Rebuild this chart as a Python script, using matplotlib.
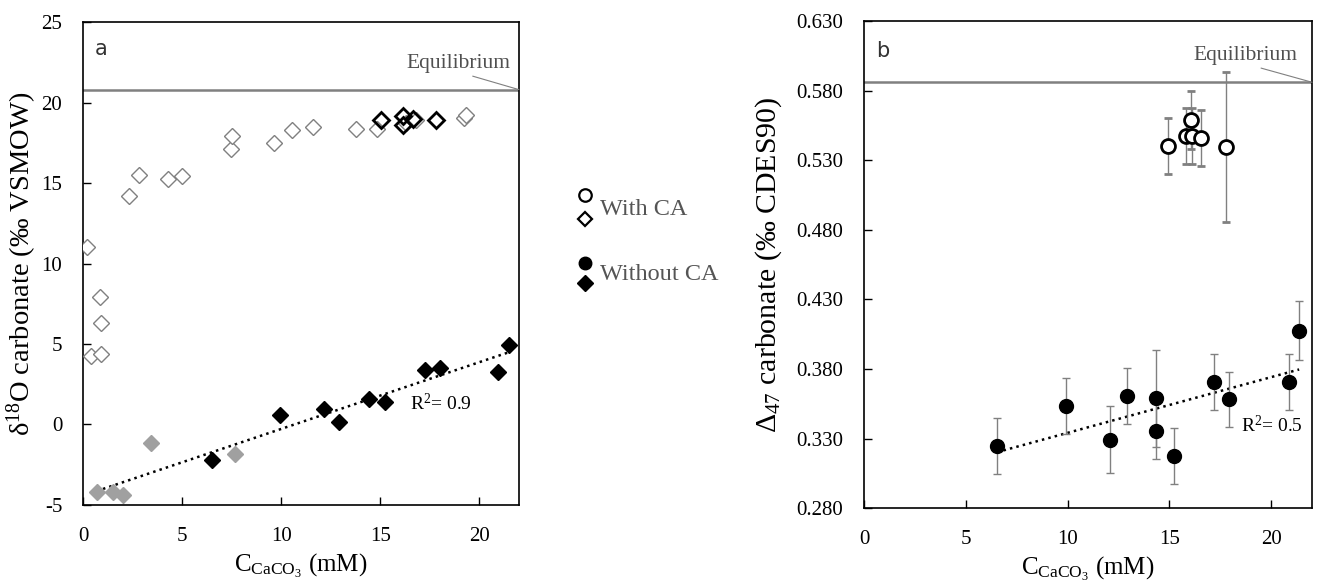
import matplotlib
matplotlib.use('Agg')
import matplotlib.pyplot as plt
import numpy as np

""" Data read from the figure """
# panel a : d18O carbonate vs C_CaCO3
with_ca_gray_x = [0.22, 0.86, 0.89, 0.39, 0.89, 2.31, 2.81, 4.29, 4.98, 7.49, 7.54, 9.65, 10.57, 11.63, 13.77, 14.83, 16.3, 16.82, 19.22, 19.35]
with_ca_gray_y = [11.0, 7.94, 6.32, 4.25, 4.38, 14.19, 15.5, 15.25, 15.45, 17.1, 17.94, 17.46, 18.31, 18.5, 18.33, 18.35, 18.7, 18.9, 19.05, 19.25]
with_ca_black_x = [15.05, 16.15, 16.15, 16.65, 17.83]
with_ca_black_y = [18.9, 19.16, 18.6, 18.97, 18.9]
without_ca_black_x = [6.53, 9.95, 12.14, 12.93, 14.44, 15.22, 17.24, 18.0, 20.96, 21.52]
without_ca_black_y = [-2.2, 0.61, 0.94, 0.17, 1.58, 1.4, 3.37, 3.51, 3.26, 4.94]
without_ca_gray_x = [0.69, 1.53, 2.04, 3.43, 7.69]
without_ca_gray_y = [-4.21, -4.2, -4.38, -1.17, -1.83]
eq_d18o = 20.8

# panel b : D47 carbonate vs C_CaCO3
with_ca_b_x = [14.95, 15.82, 16.06, 16.13, 16.54, 17.79]
with_ca_b_y = [0.540, 0.5475, 0.559, 0.5475, 0.5458, 0.5396]
with_ca_b_err = [0.020, 0.020, 0.021, 0.020, 0.020, 0.054]
without_ca_b_x = [6.54, 9.9, 12.09, 12.93, 14.36, 14.36, 15.21, 17.17, 17.91, 20.88, 21.37]
without_ca_b_y = [0.3246, 0.3533, 0.3292, 0.3605, 0.3588, 0.3352, 0.3172, 0.3708, 0.3581, 0.3705, 0.4076]
without_ca_b_err = [0.020, 0.020, 0.024, 0.020, 0.035, 0.020, 0.020, 0.020, 0.020, 0.020, 0.021]
eq_d47 = 0.586

""" Style """
plt.rcParams['font.family'] = ['Liberation Serif', 'DejaVu Serif']
plt.rcParams['mathtext.fontset'] = 'custom'
plt.rcParams['mathtext.rm'] = 'Liberation Serif'
plt.rcParams['mathtext.it'] = 'Liberation Serif:italic'
plt.rcParams['axes.unicode_minus'] = False
plt.rcParams['font.size'] = 15

gray = '#808080'
lgray = '#a0a0a0'
xlab = r'C$\mathregular{_{CaCO_3}}$ (mM)'

fig = plt.figure(figsize=(13.43, 5.84), dpi=100)
ax1 = fig.add_axes([0.0618, 0.1353, 0.3246, 0.827])
ax2 = fig.add_axes([0.6433, 0.130, 0.3336, 0.834])

""" Panel a """
ax1.axhline(eq_d18o, color=gray, lw=1.8, zorder=1)
ax1.plot(with_ca_gray_x, with_ca_gray_y, 'D', ms=8.5, mfc='white', mec=gray, mew=1.0, ls='none', zorder=3)
ax1.plot(with_ca_black_x, with_ca_black_y, 'D', ms=8.5, mfc='none', mec='black', mew=2.0, ls='none', zorder=4)
ax1.plot(without_ca_gray_x, without_ca_gray_y, 'D', ms=8, color=lgray, ls='none', zorder=3)
ax1.plot(without_ca_black_x, without_ca_black_y, 'D', ms=8, color='black', ls='none', zorder=3)
fit_x = np.array(without_ca_gray_x + without_ca_black_x)
fit_y = np.array(without_ca_gray_y + without_ca_black_y)
p = np.polyfit(fit_x, fit_y, 1)
xx = np.array([fit_x.min(), fit_x.max()])
ax1.plot(xx, np.polyval(p, xx), ':', color='black', lw=1.8, zorder=2)
ax1.text(16.5, 1.3, r'R$\mathregular{^2}$= 0.9', fontsize=14, va='center')
ax1.annotate('Equilibrium', xy=(22, eq_d18o), xytext=(16.3, 22.4), color='#505050', fontsize=15.5,
             va='center', arrowprops=dict(arrowstyle='-', color=gray, lw=0.8, shrinkA=0, shrinkB=0,
                                          relpos=(0.55, 0)))
ax1.text(0.028, 0.965, 'a', transform=ax1.transAxes, fontsize=15, family='DejaVu Sans', color='#333333', va='top')
ax1.set_xlim(0, 22)
ax1.set_ylim(-5, 25)
ax1.set_xticks([0, 5, 10, 15, 20])
ax1.set_yticks([-5, 0, 5, 10, 15, 20, 25])
ax1.set_xlabel(xlab, fontsize=18, labelpad=4)
ax1.set_ylabel(r'δ$\mathregular{^{18}}$O carbonate (‰ VSMOW)', fontsize=20.5, labelpad=2)

""" Panel b """
ax2.axhline(eq_d47, color=gray, lw=1.8, zorder=1)
ax2.errorbar(with_ca_b_x, with_ca_b_y, yerr=with_ca_b_err, fmt='o', ms=10, mfc='white', mec='black', mew=2.0,
             ecolor=gray, elinewidth=1, capsize=3, zorder=3)
ax2.errorbar(without_ca_b_x, without_ca_b_y, yerr=without_ca_b_err, fmt='o', ms=10, color='black',
             ecolor=gray, elinewidth=1, capsize=3, zorder=3)
bx = np.array(without_ca_b_x)
q = np.polyfit(bx, np.array(without_ca_b_y), 1)
xx2 = np.array([bx.min(), bx.max()])
ax2.plot(xx2, np.polyval(q, xx2), ':', color='black', lw=1.8, zorder=2)
ax2.text(18.5, 0.339, r'R$\mathregular{^2}$= 0.5', fontsize=14, va='center')
ax2.annotate('Equilibrium', xy=(22, eq_d47), xytext=(16.2, 0.605), color='#505050', fontsize=15.5,
             va='center', arrowprops=dict(arrowstyle='-', color=gray, lw=0.8, shrinkA=0, shrinkB=0,
                                          relpos=(0.55, 0)))
ax2.text(0.028, 0.96, 'b', transform=ax2.transAxes, fontsize=15, family='DejaVu Sans', color='#333333', va='top')
ax2.set_xlim(0, 22)
ax2.set_ylim(0.28, 0.63)
ax2.set_xticks([0, 5, 10, 15, 20])
ax2.set_yticks(np.arange(0.28, 0.631, 0.05))
ax2.yaxis.set_major_formatter(plt.FormatStrFormatter('%.3f'))
ax2.set_xlabel(xlab, fontsize=18, labelpad=4)
ax2.set_ylabel(r'Δ$\mathregular{_{47}}$ carbonate (‰ CDES90)', fontsize=21.5, labelpad=9)

for ax in (ax1, ax2):
    ax.tick_params(direction='in', length=6, width=1, top=False, right=False, labelsize=15)
    ax.tick_params(axis='y', pad=15)
    ax.tick_params(axis='x', pad=16)
    for s in ax.spines.values():
        s.set_linewidth(1.2)

""" Legend between the panels """
lg = fig.add_axes([0.425, 0.3, 0.15, 0.4])
lg.set_xlim(0, 1)
lg.set_ylim(0, 1)
lg.axis('off')
lg.plot([0.07], [0.915], 'o', ms=9, mfc='white', mec='black', mew=1.6)
lg.plot([0.07], [0.812], 'D', ms=7.5, mfc='white', mec='black', mew=1.6)
lg.text(0.144, 0.855, 'With CA', fontsize=17.5, color='#555555', va='center')
lg.plot([0.07], [0.624], 'o', ms=9, color='black')
lg.plot([0.07], [0.538], 'D', ms=8, color='black')
lg.text(0.144, 0.577, 'Without CA', fontsize=17.5, color='#555555', va='center')

plt.savefig('out.png', dpi=100)
